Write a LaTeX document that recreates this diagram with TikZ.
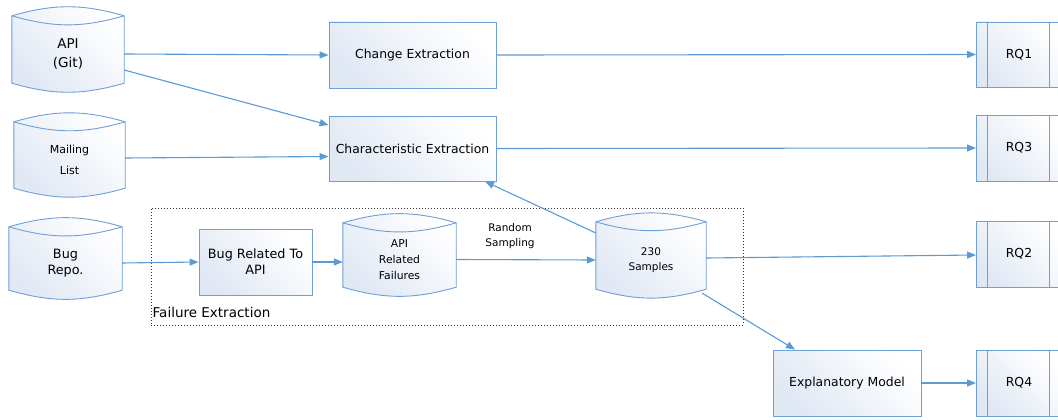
\documentclass[tikz,border=0pt]{standalone}
\usepackage{fontspec}
\setmainfont{DejaVu Sans}
\usetikzlibrary{arrows.meta,backgrounds}
\definecolor{flow}{HTML}{5B9BD5}
\definecolor{edge}{HTML}{6E9FD6}
\definecolor{tint}{HTML}{E0E8F4}
\tikzset{
  x=1pt, y=1pt,
  big/.style={font=\fontsize{12.4}{16}\selectfont, align=center},
  small/.style={font=\fontsize{10.5}{15}\selectfont, align=center},
  shaded/.style={top color=tint, bottom color=white, shading angle=135},
  stepbox/.style={rectangle, draw=edge, line width=0.9pt, shaded, inner sep=0pt, big},
  cyl/.style={rectangle, inner sep=0pt},
  cylbody/.style={draw=edge, line width=0.9pt, shaded},
  cylrim/.style={draw=edge, line width=0.9pt},
  rqbox/.style={stepbox, minimum width=85pt, minimum height=66pt},
  flowline/.style={draw=flow, line width=1.1pt, -{Triangle[length=9pt,width=7pt]}},
  frame/.style={draw=black!80, line width=1pt, dash pattern=on 1pt off 2pt, inner sep=0pt}
}
\begin{document}
\begin{tikzpicture}
\clip (0,0) rectangle (1058,-420);

% data stores
\node[cyl, font=\fontsize{13.5}{19}\selectfont, align=center, minimum width=112pt, minimum height=76pt] (api) at (68,-54) {API\\(Git)};
\node[cyl, font=\fontsize{11}{21}\selectfont, align=center, minimum width=111pt, minimum height=75pt] (mail) at (69.5,-159.5) {Mailing\\List};
\node[cyl, font=\fontsize{12.8}{16}\selectfont, align=center, minimum width=113pt, minimum height=72pt] (bugrepo) at (65.5,-263) {Bug\\Repo.};
\node[cyl, font=\fontsize{10.8}{16}\selectfont, align=center, minimum width=113pt, minimum height=73pt] (arf) at (399.5,-259.5) {API\\Related\\Failures};
\node[cyl, small, minimum width=110pt, minimum height=76pt] (samples) at (651,-260) {230\\Samples};

% processing steps
\node[stepbox, minimum width=167pt, minimum height=66pt] (change) at (412.5,-55) {Change Extraction};
\node[stepbox, minimum width=167pt, minimum height=65pt] (char) at (412.5,-148.5) {Characteristic Extraction};
\node[stepbox, font=\fontsize{12.8}{16}\selectfont, minimum width=113pt, minimum height=66pt] (bugrel) at (255.5,-262) {Bug Related To\\API};
\node[stepbox, minimum width=148pt, minimum height=66pt] (expl) at (847,-383) {Explanatory Model};

% research questions
\node[rqbox, minimum height=65pt] (rq1) at (1019,-54.5) {RQ1};
\node[rqbox] (rq3) at (1019,-148) {RQ3};
\node[rqbox] (rq2) at (1019,-254) {RQ2};
\node[rqbox] (rq4) at (1019,-383) {RQ4};
\foreach \r in {rq1,rq2,rq3,rq4}{
  \draw[cylrim] ([xshift=11.5pt]\r.north west) -- ([xshift=11.5pt]\r.south west);
  \draw[cylrim] ([xshift=-12.5pt]\r.north east) -- ([xshift=-12.5pt]\r.south east);
}

% failure extraction group
\node[frame, minimum width=592pt, minimum height=117pt] (fe) at (447,-266.5) {};
\node[anchor=west, inner sep=2pt, font=\fontsize{13.5}{16}\selectfont] (felabel) at (fe.west |- 0,-312) {Failure Extraction};

% white page and cylinder outlines behind their labels
\begin{scope}[on background layer]
\path[fill=white] (0,0) rectangle (1058,-420);
\foreach \n in {api,mail,bugrepo,arf,samples}{
  \path[cylbody] (\n.north west) to[bend left=16] (\n.north east)
    -- ([yshift=9pt]\n.south east) to[bend left=16] ([yshift=9pt]\n.south west) -- cycle;
  \draw[cylrim] (\n.north west) to[bend right=16] (\n.north east);
}
\end{scope}

% connectors
\draw[flowline] (api.east) -- (change.west);
\draw[flowline] ([yshift=-16pt]api.east) -- ([yshift=23.5pt]char.west);
\draw[flowline] ([yshift=1.5pt]mail.east) -- ([yshift=-8pt]char.west);
\draw[flowline] (change.east) -- (rq1.west);
\draw[flowline] (char.east) -- (rq3.west);
\draw[flowline] (bugrepo.east) -- (bugrel.west);
\draw[flowline] (bugrel.east) -- (arf.west |- bugrel.east);
\draw[flowline] (arf.east) -- (samples.west);
\node[small] (rs) at (510,-236.5) {Random\\Sampling};
\draw[flowline] ([yshift=27pt]samples.west) -- ([xshift=72.5pt]char.south);
\draw[flowline] ([yshift=2pt]samples.east) -- ([yshift=-1pt]rq2.west);
\draw[flowline] ([shift={(-4pt,5pt)}]samples.south east) -- ([xshift=-52pt]expl.north);
\draw[flowline] (expl.east) -- (rq4.west);
\end{tikzpicture}
\end{document}
